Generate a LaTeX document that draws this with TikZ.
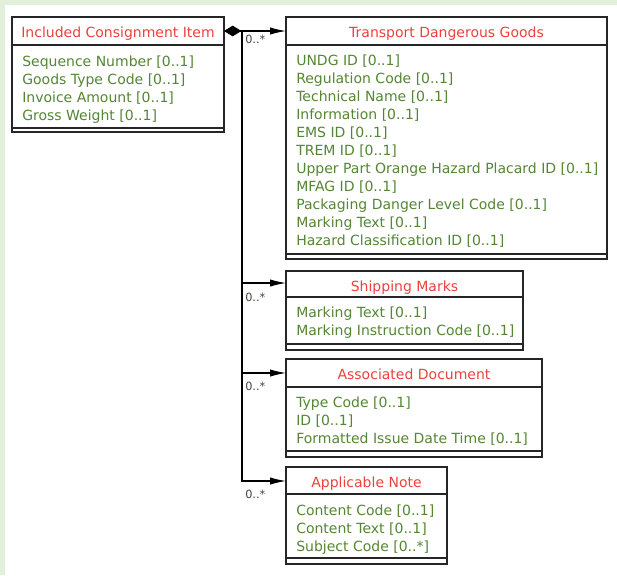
\documentclass[tikz,border=0pt]{standalone}
\usepackage{fontspec}
\setmainfont{DejaVu Sans}
\usetikzlibrary{arrows.meta}
\definecolor{hdr}{RGB}{234,66,62}
\definecolor{att}{RGB}{84,134,52}
\definecolor{bgg}{RGB}{226,239,217}
\definecolor{mult}{RGB}{70,70,60}
\tikzset{
  classbox/.style={draw=black!85, line width=0.9pt, fill=white, anchor=north west, inner sep=0pt, outer sep=0pt},
  hdrtxt/.style={text=hdr, font=\fontsize{10.5}{12}\selectfont, anchor=base, inner sep=0pt},
  atttxt/.style={text=att, font=\fontsize{10.5}{12}\selectfont, anchor=base west, inner sep=0pt},
  multtxt/.style={text=mult, font=\fontsize{8.5}{9}\selectfont, anchor=base west, inner sep=0pt},
  conn/.style={draw=black, line width=0.8pt},
  tip/.style={-{Latex[length=12pt,width=5.5pt]}},
  comptip/.style={{Diamond[length=13pt,width=8pt]}-{Latex[length=12pt,width=5.5pt]}},
  sep/.style={draw=black!85, line width=0.9pt}
}
\begin{document}
\begin{tikzpicture}[x=0.75pt,y=-0.75pt]
\useasboundingbox (0,0) rectangle (617,575);
\fill[white] (0,0) rectangle (617,575);
\fill[bgg] (0,0) rectangle (617,5);
\fill[bgg] (0,0) rectangle (5,575);

% Included Consignment Item
\node[classbox, minimum width=159pt, minimum height=86.25pt] (b1) at (12,17) {};
\draw[sep] ([yshift=-21pt]b1.north west) -- ([yshift=-21pt]b1.north east);
\draw[sep] ([yshift=3pt]b1.south west) -- ([yshift=3pt]b1.south east);
\node[hdrtxt] (b1h) at (118,37) {Included Consignment Item};
\foreach \t [count=\i from 0] in {Sequence Number [0..1], Goods Type Code [0..1], Invoice Amount [0..1], Gross Weight [0..1]}
  \node[atttxt] (b1a\i) at (22,66+18*\i) {\t};

% Transport Dangerous Goods
\node[classbox, minimum width=240.75pt, minimum height=181.5pt] (tdg) at (286,17) {};
\draw[sep] ([yshift=-21pt]tdg.north west) -- ([yshift=-21pt]tdg.north east);
\draw[sep] ([yshift=3.75pt]tdg.south west) -- ([yshift=3.75pt]tdg.south east);
\node[hdrtxt] (tdgh) at (446.5,37) {Transport Dangerous Goods};
\foreach \t [count=\i from 0] in {UNDG ID [0..1], Regulation Code [0..1], Technical Name [0..1], Information [0..1], EMS ID [0..1], TREM ID [0..1], Upper Part Orange Hazard Placard ID [0..1], MFAG ID [0..1], Packaging Danger Level Code [0..1], Marking Text [0..1], Hazard Classification ID [0..1]}
  \node[atttxt] (tdga\i) at (296,65.5+18*\i) {\t};

% Shipping Marks
\node[classbox, minimum width=177.75pt, minimum height=59.25pt] (sm) at (286,271) {};
\draw[sep] ([yshift=-19.5pt]sm.north west) -- ([yshift=-19.5pt]sm.north east);
\draw[sep] ([yshift=4.5pt]sm.south west) -- ([yshift=4.5pt]sm.south east);
\node[hdrtxt] (smh) at (404.5,291) {Shipping Marks};
\foreach \t [count=\i from 0] in {Marking Text [0..1], Marking Instruction Code [0..1]}
  \node[atttxt] (sma\i) at (296,317.5+18*\i) {\t};

% Associated Document
\node[classbox, minimum width=192pt, minimum height=73.5pt] (ad) at (286,359) {};
\draw[sep] ([yshift=-21pt]ad.north west) -- ([yshift=-21pt]ad.north east);
\draw[sep] ([yshift=4.5pt]ad.south west) -- ([yshift=4.5pt]ad.south east);
\node[hdrtxt] (adh) at (414,379) {Associated Document};
\foreach \t [count=\i from 0] in {Type Code [0..1], ID [0..1], Formatted Issue Date Time [0..1]}
  \node[atttxt] (ada\i) at (296,407+18*\i) {\t};

% Applicable Note
\node[classbox, minimum width=120.75pt, minimum height=72.75pt] (an) at (286,467) {};
\draw[sep] ([yshift=-20.25pt]an.north west) -- ([yshift=-20.25pt]an.north east);
\draw[sep] ([yshift=4.5pt]an.south west) -- ([yshift=4.5pt]an.south east);
\node[hdrtxt] (anh) at (366.5,487) {Applicable Note};
\foreach \t [count=\i from 0] in {Content Code [0..1], Content Text [0..1], Subject Code [0..*]}
  \node[atttxt] (ana\i) at (296,515+18*\i) {\t};

% connectors
\coordinate (src) at ([yshift=-10.5pt]b1.north east);
\coordinate (tdgin) at ([yshift=-10.5pt]tdg.north west);
\coordinate (smin) at ([yshift=-9pt]sm.north west);
\coordinate (adin) at ([yshift=-10.5pt]ad.north west);
\coordinate (anin) at ([yshift=-10.5pt]an.north west);
\coordinate (j) at (242,31);
\draw[conn, comptip] (src) -- (tdgin);
\draw[conn, tip] (j) |- (anin);
\draw[conn, tip] (j |- smin) -- (smin);
\draw[conn, tip] (j |- adin) -- (adin);

\node[multtxt] (m1) at (245,43) {0..*};
\node[multtxt] (m2) at (245,301) {0..*};
\node[multtxt] (m3) at (245,390) {0..*};
\node[multtxt] (m4) at (245,498) {0..*};
\end{tikzpicture}
\end{document}
